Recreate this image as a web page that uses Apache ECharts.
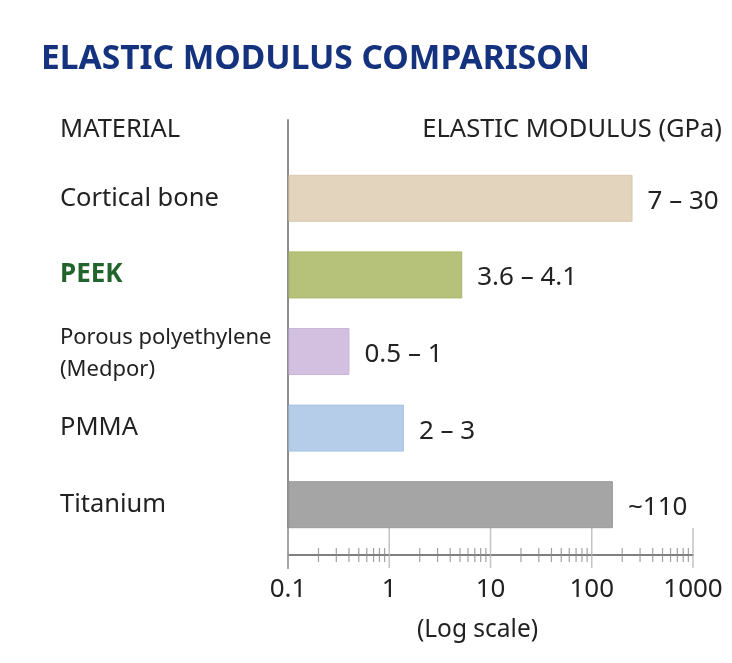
<!DOCTYPE html>
<html><head><meta charset="utf-8">
<script src="https://cdn.jsdelivr.net/npm/echarts@6/dist/echarts.min.js"></script>
<style>html,body{margin:0;padding:0;background:#fff}#c{width:732px;height:663px}</style>
</head><body><div id="c"></div>
<script>
const categories = ['Cortical bone', 'PEEK', 'Porous polyethylene\n(Medpor)', 'PMMA', 'Titanium'];
const barValues = [250, 5.2, 0.4, 1.38, 160];
const rangeLabels = ['7 – 30', '3.6 – 4.1', '0.5 – 1', '2 – 3', '~110'];
const majorTicks = [0.1, 1, 10, 100, 1000];
const minorTicks = [0.2, 0.3, 0.4, 0.5, 0.6, 0.7, 0.8, 0.9,
                    2, 3, 4, 5, 6, 7, 8, 9,
                    20, 30, 40, 50, 60, 70, 80, 90,
                    200, 300, 400, 500, 600, 700, 800, 900];
const axisMin = 0.1, axisMax = 1000;

const barColors = ['#e2d4bd', '#b6c27a', '#d3c0e0', '#b5cde9', '#a5a5a5'];
const barBorders = ['#d9c9ae', '#a8b76a', '#c9b5da', '#a8c4e6', '#9a9a9a'];
const FONT = '"Noto Sans", "Open Sans", sans-serif';

const chart = echarts.init(document.getElementById('c'), null, {renderer: 'canvas'});
chart.setOption({
  animation: false,
  backgroundColor: '#fff',
  textStyle: {fontFamily: FONT},
  graphic: [
    {type: 'text', left: 41, top: 42, style: {text: 'ELASTIC MODULUS COMPARISON', fill: '#15327f', font: 'bold 33.5px ' + FONT}},
    {type: 'text', left: 60, top: 117, style: {text: 'MATERIAL', fill: '#222', font: '25.5px ' + FONT}},
    {type: 'text', right: 10, top: 117, style: {text: 'ELASTIC MODULUS (GPa)', fill: '#222', font: '25.5px ' + FONT}}
  ],
  grid: [
    {left: 288, right: 39, top: 160, bottom: 120, outerBoundsMode: 'none'},
    {left: 288, right: 39, top: 120, bottom: 95, outerBoundsMode: 'none'}
  ],
  xAxis: [
    {gridIndex: 0, type: 'log', logBase: 10, min: axisMin, max: axisMax, show: false},
    {gridIndex: 1, type: 'log', logBase: 10, min: axisMin, max: axisMax,
     axisLine: {show: true, onZero: true, lineStyle: {color: '#555', width: 1.5}},
     axisTick: {show: false}, splitLine: {show: false}, minorTick: {show: false},
     axisLabel: {show: true, margin: 9, color: '#222', fontSize: 26, fontFamily: FONT,
                 formatter: v => String(+(+v).toPrecision(3))},
     name: '(Log scale)', nameLocation: 'middle', nameGap: 50,
     nameTextStyle: {color: '#222', fontSize: 24.5, fontFamily: FONT, padding: [0, 26, 0, 0]}}
  ],
  yAxis: [
    {gridIndex: 0, type: 'category', inverse: true, data: categories,
     axisLine: {show: false}, axisTick: {show: false}, splitLine: {show: false},
     axisLabel: {margin: 228, align: 'left', color: '#222', fontSize: 25.5, fontFamily: FONT,
       formatter: v => v === 'PEEK' ? '{peek|PEEK}' :
         (v.indexOf('\n') >= 0 ? v.split('\n').map(s => '{small|' + s + '}').join('\n') : v),
       rich: {
         peek: {color: '#23642c', fontWeight: 'bold', fontSize: 26, fontFamily: FONT},
         small: {color: '#222', fontSize: 22, lineHeight: 32, fontFamily: FONT, padding: [4, 0, 0, 0]}
       }}},
    {gridIndex: 1, type: 'value', min: -13, max: 435,
     axisLine: {show: true, onZero: false, lineStyle: {color: '#8c8c8c', width: 2}},
     axisTick: {show: false}, axisLabel: {show: false}, splitLine: {show: false}}
  ],
  series: [
    {
      type: 'scatter', xAxisIndex: 1, yAxisIndex: 1, silent: true,
      symbol: 'rect', symbolSize: [1.5, 40], z: 1,
      itemStyle: {color: '#b4b4b4'},
      data: majorTicks.map(v => [v, 7])
    },
    {
      type: 'scatter', xAxisIndex: 1, yAxisIndex: 1, silent: true,
      symbol: 'rect', symbolSize: [1.2, 14], z: 1,
      itemStyle: {color: '#8a8a8a'},
      data: minorTicks.map(v => [v, 0])
    },
    {
      type: 'custom', xAxisIndex: 0, yAxisIndex: 0, z: 3,
      encode: {x: 0, y: 1},
      data: barValues.map((v, i) => [v, i]),
      renderItem: (params, api) => {
        const cat = api.value(1);
        const p0 = api.coord([axisMin, cat]);
        const p1 = api.coord([api.value(0), cat]);
        const h = 46;
        const i = params.dataIndex;
        return {
          type: 'rect',
          shape: {x: p0[0] + 1, y: p0[1] - h / 2, width: p1[0] - p0[0] - 1, height: h},
          style: {fill: barColors[i], stroke: barBorders[i], lineWidth: 1},
          textContent: {style: {text: rangeLabels[i], fill: '#222', font: '26px ' + FONT}},
          textConfig: {position: 'right', distance: 15, offset: [0, 3]}
        };
      }
    }
  ]
});
</script></body></html>
